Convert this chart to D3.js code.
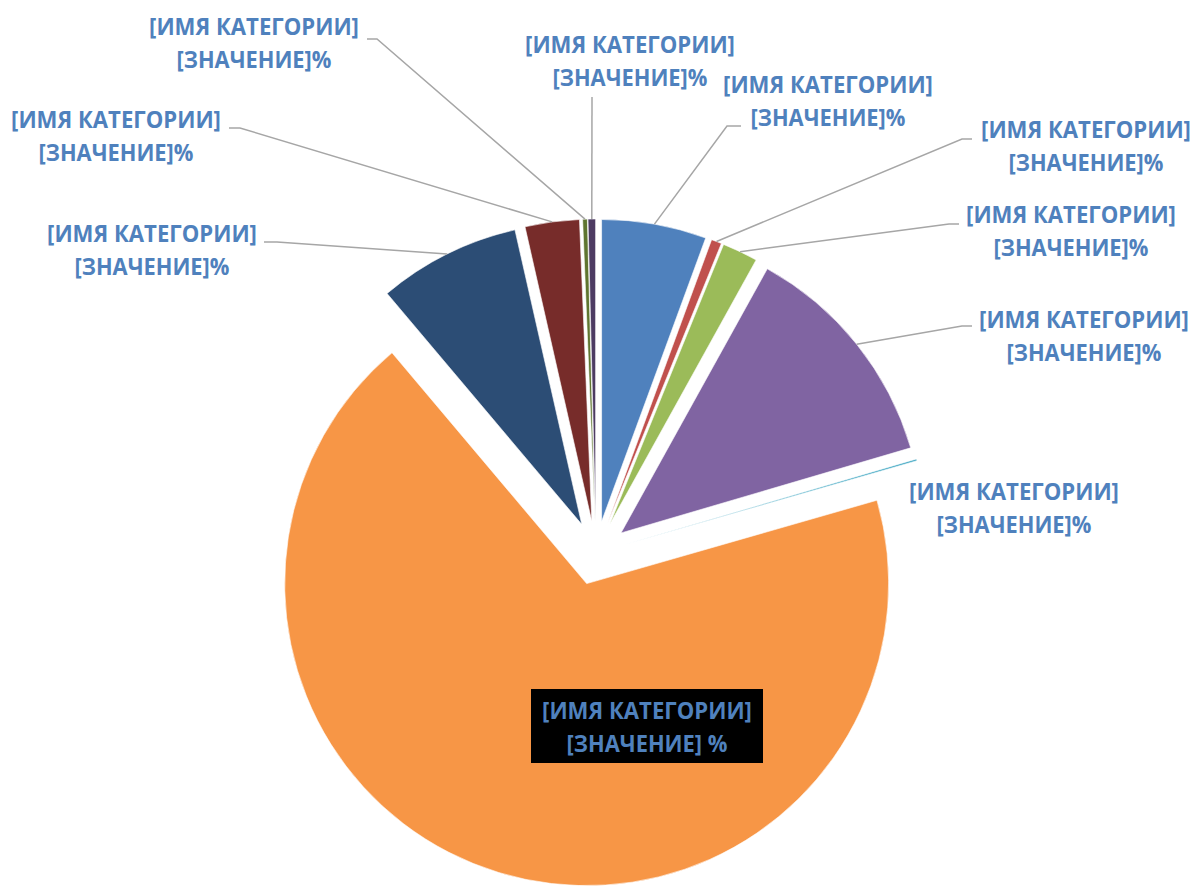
<!DOCTYPE html>
<html>
<head>
<meta charset="utf-8">
<script src="https://cdn.jsdelivr.net/npm/d3@7/dist/d3.min.js"></script>
<style>
  body { margin: 0; background: #fff; }
  svg { display: block; }
</style>
</head>
<body>
<script>
// data (clockwise from 12 o'clock)
var categories = ["[ИМЯ КАТЕГОРИИ]", "[ИМЯ КАТЕГОРИИ]", "[ИМЯ КАТЕГОРИИ]", "[ИМЯ КАТЕГОРИИ]", "[ИМЯ КАТЕГОРИИ]",
                  "[ИМЯ КАТЕГОРИИ]", "[ИМЯ КАТЕГОРИИ]", "[ИМЯ КАТЕГОРИИ]", "[ИМЯ КАТЕГОРИИ]", "[ИМЯ КАТЕГОРИИ]"];
var values = [5.6, 0.55, 1.9, 12.4, 0.1, 68.3, 7.6, 2.9, 0.25, 0.4];
var valueTexts = ["[ЗНАЧЕНИЕ]%", "[ЗНАЧЕНИЕ]%", "[ЗНАЧЕНИЕ]%", "[ЗНАЧЕНИЕ]%", "[ЗНАЧЕНИЕ]%",
                  "[ЗНАЧЕНИЕ] %", "[ЗНАЧЕНИЕ]%", "[ЗНАЧЕНИЕ]%", "[ЗНАЧЕНИЕ]%", "[ЗНАЧЕНИЕ]%"];

var colors = ["#4F81BD", "#C0504D", "#9BBB59", "#8064A2", "#4BACC6",
              "#F79646", "#2C4D75", "#772C2A", "#5F7530", "#4D3B62"];

var svgWidth = 1198;
var svgHeight = 886;
var cx = 596, cy = 553;
var radius = 302;
var explode = 32;

// where Excel put each label (centre x, first line centre y) and its leader elbow
var labelLayout = [
  { x: 828,  y: 85,  elbow: [727, 126], end: [741, 126] },
  { x: 1086, y: 130, elbow: [962, 139], end: [972, 139] },
  { x: 1071, y: 215, elbow: [949, 224], end: [959, 224] },
  { x: 1084, y: 320, elbow: [962, 326], end: [972, 326] },
  { x: 1014, y: 492, elbow: null },
  { x: 647,  y: 711, inside: true },
  { x: 152,  y: 234, elbow: [277, 242], end: [264, 242] },
  { x: 116,  y: 120, elbow: [240, 128], end: [229, 128] },
  { x: 254,  y: 27,  elbow: [377, 39],  end: [367, 39] },
  { x: 630,  y: 45,  elbow: [592, 97],  end: [592, 97] }
];

var fontFamily = "'Open Sans', 'Noto Sans', sans-serif";
var textColor = "#4F81BD";
var fontSize = 23.5;
var lineGap = 33;

var svg = d3.select("body")
  .append("svg")
  .attr("width", svgWidth)
  .attr("height", svgHeight);

var pieData = d3.pie().sort(null).value(d => d)(values);

var arc = d3.arc().innerRadius(0).outerRadius(radius);
var edgeArc = d3.arc().innerRadius(radius).outerRadius(radius);

function offset(d) {
  var mid = (d.startAngle + d.endAngle) / 2;
  return [explode * Math.sin(mid), -explode * Math.cos(mid)];
}

var chartGroup = svg.append("g")
  .attr("transform", `translate(${cx}, ${cy})`);

chartGroup.selectAll("path.slice")
  .data(pieData)
  .enter()
  .append("path")
  .attr("class", "slice")
  .attr("transform", d => `translate(${offset(d)[0]}, ${offset(d)[1]})`)
  .attr("d", arc)
  .attr("fill", (d, i) => colors[i])
  .attr("stroke", "#fff")
  .attr("stroke-width", 0.6);

// leader lines
pieData.forEach(function(d, i) {
  var lay = labelLayout[i];
  if (!lay.elbow) return;
  var off = offset(d);
  var c = edgeArc.centroid(d);
  var start = [cx + off[0] + c[0], cy + off[1] + c[1]];
  svg.append("path")
    .attr("d", d3.line()([start, lay.elbow, lay.end]))
    .attr("fill", "none")
    .attr("stroke", "#A6A6A6")
    .attr("stroke-width", 1.5);
});

// one label line, squeezed sideways to the Calibri width seen in the picture
function addLine(x, y, str, targetWidth) {
  var t = svg.append("text")
    .attr("font-family", fontFamily)
    .attr("font-weight", "bold")
    .attr("font-size", fontSize)
    .attr("fill", textColor)
    .attr("text-anchor", "middle")
    .text(str);
  var k = Math.min(1, targetWidth / t.node().getComputedTextLength());
  t.attr("transform", `translate(${x}, ${y + fontSize * 0.36}) scale(${k}, 1)`);
}

pieData.forEach(function(d, i) {
  var lay = labelLayout[i];
  if (lay.inside) {
    svg.append("rect")
      .attr("x", lay.x - 116)
      .attr("y", lay.y - 22)
      .attr("width", 232)
      .attr("height", 74)
      .attr("fill", "#000");
  }
  addLine(lay.x, lay.y, categories[i], 210);
  addLine(lay.x, lay.y + lineGap, valueTexts[i], lay.inside ? 161 : 155);
});
</script>
</body>
</html>
